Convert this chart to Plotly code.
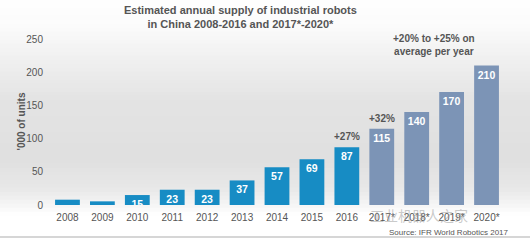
import plotly.graph_objects as go

years = ["2008", "2009", "2010", "2011", "2012", "2013", "2014", "2015", "2016",
         "2017*", "2018*", "2019*", "2020*"]
supply = [8, 5.5, 15, 23, 23, 37, 57, 69, 87, 115, 140, 170, 210]
labels = ["", "", "15", "23", "23", "37", "57", "69", "87", "115", "140", "170", "210"]
is_forecast = [False] * 9 + [True] * 4
growth_notes = [("2016", "+27%"), ("2017*", "+32%")]

BLUE = "#178cc4"
GREYBLUE = "#7c94b6"
TEXT = "#555555"
FONT = "Liberation Sans, Arial, sans-serif"

pos = list(range(len(years)))
colors = [GREYBLUE if f else BLUE for f in is_forecast]

fig = go.Figure()
fig.add_trace(go.Bar(
    x=pos, y=supply, width=0.71, marker=dict(color=colors, line=dict(width=0)),
    text=["<b>" + s + "</b>" if s else "" for s in labels],
    textposition="inside", insidetextanchor="end", textangle=0,
    constraintext="none",
    textfont=dict(color="white", size=10.5, family=FONT),
    hoverinfo="skip",
))

H = 240
top_m, bot_m = 39, 35
plot_h = H - top_m - bot_m
L, R = 50, 26
plot_w = 530 - L - R


def py2paper(py):
    return (H - bot_m - py) / plot_h


def px2paper(px):
    return (px - L) / plot_w


def gray_at(py):
    pts = [(0, 255), (25, 252), (60, 240), (100, 228), (160, 224), (190, 233),
           (205, 246), (215, 255), (240, 255)]
    for (a, va), (b, vb) in zip(pts[:-1], pts[1:]):
        if a <= py <= b:
            t = (py - a) / (b - a)
            return int(va + (vb - va) * t)
    return 255


shapes = []
step = 4
for py in range(0, 216, step):
    g = gray_at(py + step / 2)
    shapes.append(dict(type="rect", xref="paper", yref="paper",
                       x0=px2paper(0), x1=px2paper(530), y0=py2paper(py + step), y1=py2paper(py) + 0.002,
                       fillcolor=f"rgb({g},{g},{g})", line=dict(width=0), layer="below"))
shapes.append(dict(type="line", xref="paper", yref="paper",
                   x0=px2paper(0), x1=px2paper(530), y0=py2paper(237), y1=py2paper(237),
                   line=dict(color="#c8c8c8", width=1.5)))

annotations = []
for yr, t in growth_notes:
    i = years.index(yr)
    annotations.append(dict(x=i, y=supply[i], text="<b>" + t + "</b>", showarrow=False,
                            yanchor="bottom", yshift=3,
                            font=dict(size=10, color=TEXT, family=FONT)))
annotations.append(dict(x=10.5, y=241, text="<b>+20% to +25% on<br>average per year</b>",
                        showarrow=False, font=dict(size=10, color=TEXT, family=FONT)))
annotations.append(dict(xref="paper", yref="paper", x=px2paper(240), y=py2paper(2), yanchor="top",
                        text="<b>Estimated annual supply of industrial robots<br>in China 2008-2016 and 2017*-2020*</b>",
                        showarrow=False, font=dict(size=11, color=TEXT, family=FONT)))
annotations.append(dict(xref="paper", yref="paper", x=px2paper(511), y=py2paper(239), yanchor="bottom",
                        xanchor="right", text="Source: IFR World Robotics 2017",
                        showarrow=False, font=dict(size=8, color=TEXT, family=FONT)))
annotations.append(dict(xref="paper", yref="paper", x=px2paper(470), y=py2paper(215), yanchor="middle",
                        text="工业机器人之家", showarrow=False,
                        font=dict(size=14, color="rgba(150,150,150,0.5)", family="Noto Sans CJK SC")))
annotations.append(dict(xref="paper", yref="paper", x=px2paper(13), y=py2paper(122),
                        text="<b>'000 of units</b>", textangle=-90, showarrow=False,
                        font=dict(size=10, color=TEXT, family=FONT)))

fig.update_layout(
    width=530, height=240,
    margin=dict(l=L, r=R, t=top_m, b=bot_m),
    paper_bgcolor="white", plot_bgcolor="rgba(0,0,0,0)",
    showlegend=False,
    font=dict(family=FONT, color=TEXT, size=10),
    shapes=shapes, annotations=annotations,
    xaxis=dict(range=[-0.5, len(years) - 0.5], tickvals=pos, ticktext=years,
               showgrid=False, showline=False, zeroline=False, ticks="",
               ticklabelstandoff=5, tickfont=dict(size=10, color=TEXT)),
    yaxis=dict(range=[0, 250], tickvals=[0, 50, 100, 150, 200, 250], showgrid=False,
               showline=False, zeroline=False, ticks="", ticklabelstandoff=6,
               tickfont=dict(size=10, color=TEXT)),
)

fig.write_html("out.html")
